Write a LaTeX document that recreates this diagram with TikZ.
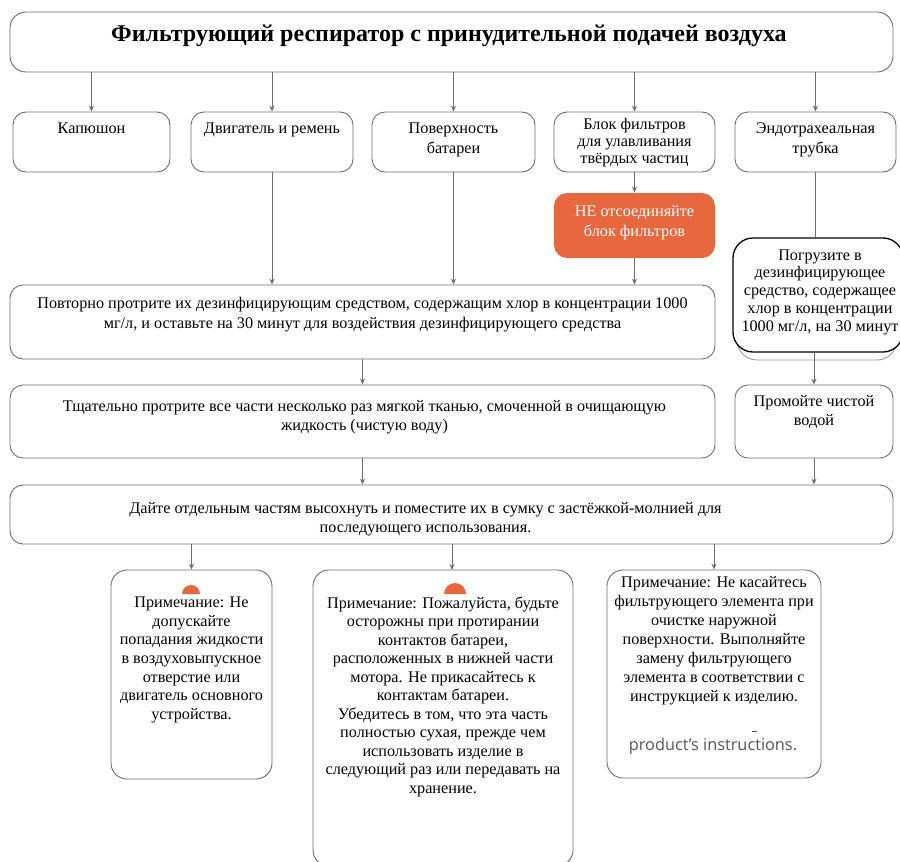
\documentclass[tikz,border=0pt]{standalone}
\usepackage{fontspec}
\setmainfont{Liberation Serif}
\newfontfamily\latinsans{Open Sans}
\usetikzlibrary{positioning,arrows.meta}
\definecolor{linegray}{HTML}{6E6E6E}
\definecolor{warnorange}{HTML}{E7683E}
\definecolor{capgray}{HTML}{555555}

\begin{document}
\begin{tikzpicture}[x=1pt,y=-1pt,
  box/.style={draw=linegray, line width=0.9pt, rounded corners=13pt, inner sep=0pt},
  txt/.style={inner sep=0pt, align=center, font=\fontsize{16.2}{19}\selectfont},
  arr/.style={draw=linegray, line width=0.9pt, -{Stealth[length=6pt,width=5pt]}},
  link/.style={draw=linegray, line width=0.9pt}]

  \useasboundingbox (0,0) rectangle (900,862);
  \clip (0,0) rectangle (900,862);

  % Title
  \node[box, rounded corners=16pt, minimum width=883pt, minimum height=60pt] (title) at (451.5,42) {};
  \node[txt, font=\bfseries\fontsize{24}{28}\selectfont] (titleT) at (449,36)
    {Фильтрующий респиратор с принудительной подачей воздуха};

  % Parts
  \node[box, minimum width=157pt, minimum height=60pt] (kap)  at (91.5,142) {};
  \node[box, minimum width=162pt, minimum height=60pt] (dvig) at (272,142) {};
  \node[box, minimum width=163pt, minimum height=60pt] (pov)  at (453.5,142) {};
  \node[box, minimum width=161pt, minimum height=60pt] (blok) at (634.5,142) {};
  \node[box, minimum width=161pt, minimum height=60pt] (endo) at (815.5,142) {};
  \node[txt, below=11pt of kap.north]  (kapT)  {Капюшон};
  \node[txt, below=11pt of dvig.north] (dvigT) {Двигатель и ремень};
  \node[txt, below=11pt of pov.north, font=\fontsize{16.2}{20}\selectfont]  (povT)  {Поверхность\\батареи};
  \node[txt, below=7pt of blok.north, font=\fontsize{16.2}{16.8}\selectfont] (blokT) {Блок фильтров\\для улавливания\\твёрдых частиц};
  \node[txt, below=11pt of endo.north, font=\fontsize{16.2}{20}\selectfont] (endoT) {Эндотрахеальная\\трубка};

  % Warning
  \node[box, draw=none, fill=warnorange, minimum width=161pt, minimum height=65pt] (warn) at (634.5,225.5) {};
  \node[txt, text=white, below=13pt of warn.north, font=\fontsize{16.2}{20}\selectfont] (warnT) {НЕ отсоединяйте\\блок фильтров};

  % Soaking the tube
  \draw[linegray!70, line width=0.9pt, rounded corners=20pt] (737,246) rectangle (897,360);
  \node[box, draw=black, fill=white, line width=1.3pt, rounded corners=20pt, minimum width=170pt, minimum height=114pt] (pogr) at (818,295) {};
  \node[txt, below=12pt of pogr.north, font=\fontsize{16.2}{17.8}\selectfont, xshift=2pt] (pogrT)
    {Погрузите в\\дезинфицирующее\\средство, содержащее\\хлор в концентрации\\1000 мг/л, на 30 минут};

  % Steps
  \node[box, minimum width=705pt, minimum height=74pt] (povt) at (362.5,322) {};
  \node[txt, below=13pt of povt.north, font=\fontsize{16.2}{20}\selectfont] (povtT)
    {Повторно протрите их дезинфицирующим средством, содержащим хлор в концентрации 1000\\мг/л, и оставьте на 30 минут для воздействия дезинфицирующего средства};
  \node[box, minimum width=705pt, minimum height=73pt] (tshch) at (362.5,421.5) {};
  \node[txt, below=16pt of tshch.north, xshift=2pt] (tshchT)
    {Тщательно протрите все части несколько раз мягкой тканью, смоченной в очищающую\\жидкость (чистую воду)};
  \node[box, minimum width=158pt, minimum height=73pt] (prom) at (814,421.5) {};
  \node[txt, below=11pt of prom.north] (promT) {Промойте чистой\\водой};
  \node[box, minimum width=883pt, minimum height=59pt] (dayte) at (451.5,514.5) {};
  \node[txt, below=18pt of dayte.north, xshift=-26pt] (dayteT)
    {Дайте отдельным частям высохнуть и поместите их в сумку с застёжкой-молнией для\\последующего использования.};

  % Notes
  \node[box, rounded corners=16pt, minimum width=161pt, minimum height=209pt] (note1) at (191.5,674.5) {};
  \node[box, rounded corners=16pt, minimum width=260pt, minimum height=296pt] (note2) at (443,718) {};
  \node[box, rounded corners=16pt, minimum width=214pt, minimum height=208pt] (note3) at (714,674) {};
  \coordinate (n2in) at (452,570);
  \fill[warnorange] (182,594) arc[start angle=180, end angle=360, radius=9] -- cycle;
  \fill[warnorange] (444,594) arc[start angle=180, end angle=360, radius=11] -- cycle;
  \node[txt, below=27pt of note1.north, font=\fontsize{16.2}{18.7}\selectfont] (note1T)
    {Примечание: Не\\допускайте\\попадания жидкости\\в воздуховыпускное\\отверстие или\\двигатель основного\\устройства.};
  \node[txt, below=27pt of note2.north, font=\fontsize{16.2}{18.5}\selectfont] (note2T)
    {Примечание: Пожалуйста, будьте\\осторожны при протирании\\контактов батареи,\\расположенных в нижней части\\мотора. Не прикасайтесь к\\контактам батареи.\\Убедитесь в том, что эта часть\\полностью сухая, прежде чем\\использовать изделие в\\следующий раз или передавать на\\хранение.};
  \node[txt, below=7pt of note3.north] (note3T)
    {Примечание: Не касайтесь\\фильтрующего элемента при\\очистке наружной\\поверхности. Выполняйте\\замену фильтрующего\\элемента в соответствии с\\инструкцией к изделию.};
  \node[txt, text=capgray, font=\latinsans\fontsize{16.3}{18}\selectfont] (prodT) at (713,746) {product’s instructions.};
  \draw[capgray, line width=1pt] (752,731) -- (757,731);

  % Connectors
  \foreach \n in {kap,dvig,pov,blok,endo}
    \draw[arr] (\n.north |- title.south) -- (\n.north);
  \draw[arr] (dvig.south) -- (dvig.south |- povt.north);
  \draw[arr] (pov.south) -- (pov.south |- povt.north);
  \draw[arr] (blok.south) -- (warn.north);
  \draw[arr] (warn.south) -- (warn.south |- povt.north);
  \draw[link] (endo.south) -- (endo.south |- pogr.north);
  \draw[arr] (povt.south) -- (tshch.north);
  \draw[arr] (prom.north |- pogr.south) -- (prom.north);
  \draw[arr] (tshch.south) -- (tshch.south |- dayte.north);
  \draw[arr] (prom.south) -- (prom.south |- dayte.north);
  \draw[arr] (note1.north |- dayte.south) -- (note1.north);
  \draw[arr] (n2in |- dayte.south) -- (n2in);
  \draw[arr] (note3.north |- dayte.south) -- (note3.north);
\end{tikzpicture}
\end{document}
